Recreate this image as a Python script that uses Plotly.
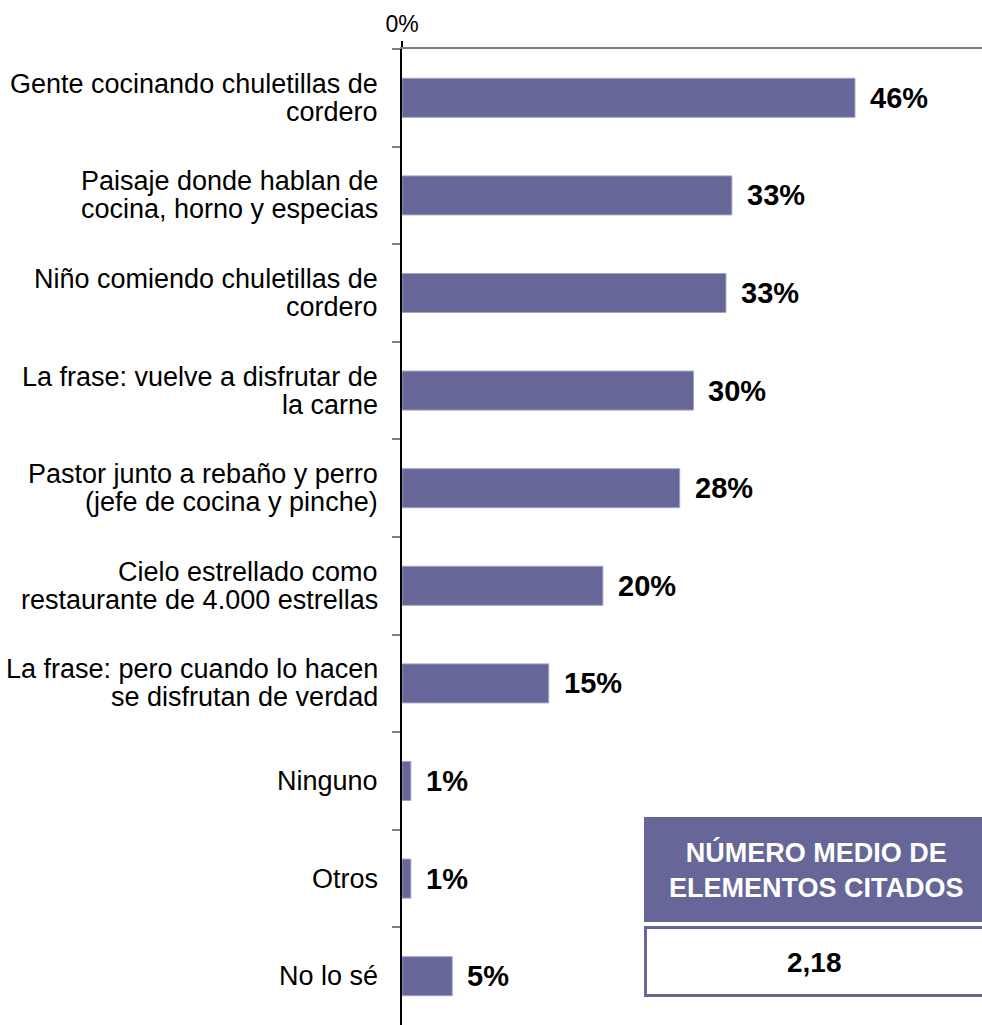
import plotly.graph_objects as go

categories = [
    "Gente cocinando chuletillas de cordero",
    "Paisaje donde hablan de cocina, horno y especias",
    "Niño comiendo chuletillas de cordero",
    "La frase: vuelve a disfrutar de la carne",
    "Pastor junto a rebaño y perro (jefe de cocina y pinche)",
    "Cielo estrellado como restaurante de 4.000 estrellas",
    "La frase: pero cuando lo hacen se disfrutan de verdad",
    "Ninguno",
    "Otros",
    "No lo sé",
]
label_lines = [
    ["Gente cocinando chuletillas de", "cordero"],
    ["Paisaje donde hablan de", "cocina, horno y especias"],
    ["Niño comiendo chuletillas de", "cordero"],
    ["La frase: vuelve a disfrutar de", "la carne"],
    ["Pastor junto a rebaño y perro", "(jefe de cocina y pinche)"],
    ["Cielo estrellado como", "restaurante de 4.000 estrellas"],
    ["La frase: pero cuando lo hacen", "se disfrutan de verdad"],
    ["Ninguno"],
    ["Otros"],
    ["No lo sé"],
]
values = [46.0, 33.5, 32.9, 29.6, 28.2, 20.4, 14.9, 0.9, 0.9, 5.1]
value_labels = ["46%", "33%", "33%", "30%", "28%", "20%", "15%", "1%", "1%", "5%"]
box_title = "NÚMERO MEDIO DE<br>ELEMENTOS CITADOS"
box_value = "2,18"

BAR = "#666699"
FONT = "Liberation Sans, Arial, sans-serif"

fig = go.Figure()
fig.add_trace(go.Bar(
    y=categories, x=values, orientation="h",
    marker=dict(color=BAR, line=dict(color="#a3a3c8", width=1)),
    width=0.4, hoverinfo="skip",
))

annotations = []
for cat, lines in zip(categories, label_lines):
    if len(lines) == 1:
        shifts = [0]
    else:
        shifts = [14, -14]
    for line, s in zip(lines, shifts):
        annotations.append(dict(
            x=0, xref="paper", y=cat, yref="y", text=line, showarrow=False,
            xanchor="right", yanchor="middle", xshift=-22, yshift=s,
            font=dict(family=FONT, size=27, color="#000000"),
        ))
for cat, v, t in zip(categories, values, value_labels):
    annotations.append(dict(
        x=v, xref="x", y=cat, yref="y", text="<b>%s</b>" % t, showarrow=False,
        xanchor="left", yanchor="middle", xshift=13, yshift=0,
        font=dict(family=FONT, size=29, color="#000000"),
    ))

# summary box (paper coords: plot area x 402..982, y 49..1025)
def px_x(p):
    return (p - 402) / 580.0

def px_y(p):
    return (1025 - p) / 976.0

shapes = [
    dict(type="rect", xref="paper", yref="paper", x0=px_x(644), x1=px_x(990),
         y0=px_y(922), y1=px_y(817), fillcolor=BAR, line=dict(width=0), layer="above"),
    dict(type="rect", xref="paper", yref="paper", x0=px_x(645.5), x1=px_x(990),
         y0=px_y(995.5), y1=px_y(927.5), fillcolor="#ffffff",
         line=dict(color=BAR, width=3), layer="above"),
]
annotations.append(dict(
    x=px_x(816), xref="paper", y=px_y(870), yref="paper", text="<b>%s</b>" % box_title,
    showarrow=False, xanchor="center", yanchor="middle",
    font=dict(family=FONT, size=27, color="#ffffff"),
))
annotations.append(dict(
    x=px_x(814), xref="paper", y=px_y(962), yref="paper", text="<b>%s</b>" % box_value,
    showarrow=False, xanchor="center", yanchor="middle",
    font=dict(family=FONT, size=28, color="#000000"),
))

fig.update_layout(
    width=982, height=1025,
    margin=dict(l=402, r=0, t=49, b=0, pad=0),
    paper_bgcolor="white", plot_bgcolor="white",
    showlegend=False,
    annotations=annotations, shapes=shapes,
    xaxis=dict(
        side="top", range=[0, 58.9], tickvals=[0], ticktext=["0%"],
        showgrid=False, zeroline=False, showline=True, linecolor="#808080", linewidth=1.5,
        ticks="outside", ticklen=6, tickcolor="#000000", tickwidth=1.5,
        tickfont=dict(family=FONT, size=23, color="#000000"),
    ),
    yaxis=dict(
        type="category", range=[9.5, -0.5], showticklabels=False,
        showgrid=False, zeroline=False, showline=True, linecolor="#000000", linewidth=1.5,
        ticks="outside", tickson="boundaries", ticklen=8, tickcolor="#808080", tickwidth=1.5,
    ),
    font=dict(family=FONT),
)

fig.write_html(
    "out.html",
    config={"displayModeBar": False},
    post_script="document.body.style.margin='0';document.body.style.padding='0';"
                "document.body.style.overflow='hidden';"
                "document.documentElement.style.overflow='hidden';",
)
